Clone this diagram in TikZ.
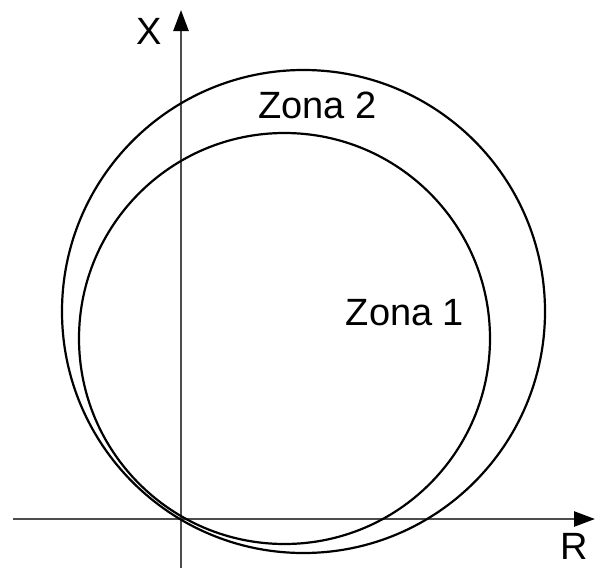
\documentclass[tikz,border=0pt]{standalone}
\usepackage{fontspec}
\setmainfont{Liberation Sans}
\usetikzlibrary{arrows.meta}
\begin{document}
\begin{tikzpicture}[x=1pt,y=-1pt,
  axis/.style={draw=black!70,line width=2.5pt,-{Triangle[length=21pt,width=15pt,fill=black,color=black]}},
  zone/.style={draw=black,line width=2.2pt},
  lbl/.style={anchor=base,inner sep=0pt,font=\fontsize{38}{40}\selectfont}]
\useasboundingbox (0,0) rectangle (595,568);
\coordinate (xs) at (13,519);
\coordinate (xe) at (595,519);
\coordinate (ys) at (181,568);
\coordinate (ye) at (181,10);
\draw[axis] (xs) -- (xe);
\draw[axis] (ys) -- (ye);
\draw[zone] (303.5,311.5) circle (241.5);
\draw[zone] (284.5,338.5) circle (205.5);
\node[lbl] (lx) at (149.5,44) {X};
\node[lbl] (lr) at (574,559) {R};
\node[lbl] (z2) at (317.5,118) {Zona 2};
\node[lbl] (z1) at (405,325) {Zona 1};
\end{tikzpicture}
\end{document}
